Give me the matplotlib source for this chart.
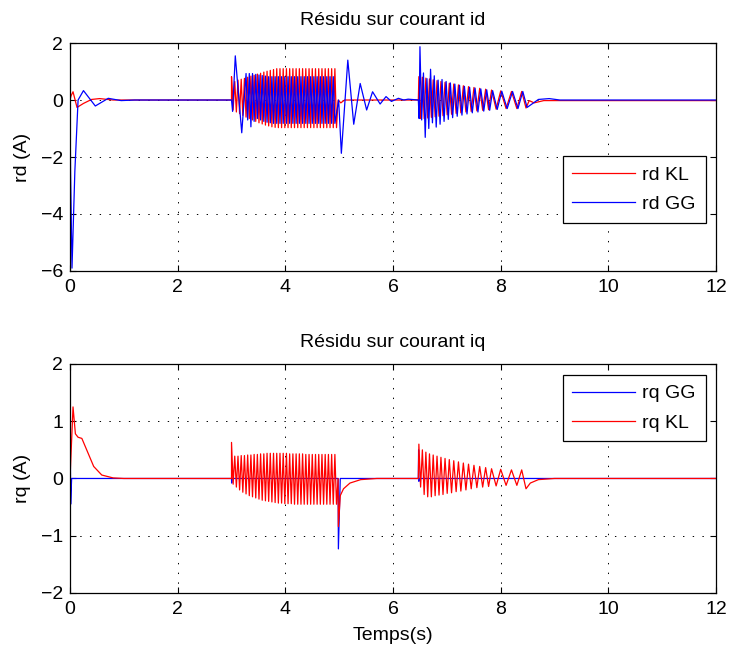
import matplotlib
matplotlib.use("Agg")
import matplotlib.pyplot as plt
import numpy as np

plt.rcParams['font.family'] = ['Liberation Sans', 'DejaVu Sans']
plt.rcParams['font.size'] = 14
plt.rcParams['lines.scale_dashes'] = False

# ---- rd (top) : values ----
# rd KL, outside the bursts (time, value)
rd_kl_start_t = [0.0, 0.02, 0.056, 0.13, 0.25, 0.40, 0.55, 0.8, 3.0]
rd_kl_start_v = [0.0, 0.15, 0.29, -0.26, -0.12, 0.02, 0.05, 0.0, 0.0]
# burst 1, one top and one bottom per cycle, cycle length b1_period
b1_start = 3.0
b1_period = 0.06
rd_kl_b1_top = [0.82, 0.65, 0.70, 0.73, 0.76, 0.80, 0.84, 0.87, 0.91, 0.94, 0.98,
                1.01, 1.04, 1.07, 1.10, 1.10, 1.10, 1.10, 1.10, 1.10, 1.10, 1.10,
                1.10, 1.10, 1.10, 1.10, 1.10, 1.10, 1.10, 1.10, 1.10, 1.10, 1.10]
rd_kl_b1_bot = [-0.35, -0.42, -0.48, -0.54, -0.60, -0.65, -0.70, -0.75, -0.80, -0.84, -0.88,
                -0.91, -0.94, -0.96, -0.97, -0.97, -0.97, -0.97, -0.97, -0.97, -0.97, -0.97,
                -0.97, -0.97, -0.97, -0.97, -0.97, -0.97, -0.97, -0.97, -0.97, -0.97, -0.97]
rd_kl_mid_t = [4.98, 5.03, 5.10, 6.47]
rd_kl_mid_v = [0.0, -0.10, 0.0, 0.0]
# burst 2, times of tops and bottoms (period grows toward the end)
b2_top_t = [6.48, 6.545, 6.61, 6.677, 6.746, 6.817, 6.89, 6.966, 7.045, 7.128,
            7.215, 7.306, 7.402, 7.503, 7.61, 7.72, 7.83, 8.0, 8.2, 8.39]
b2_bot_t = [6.512, 6.578, 6.644, 6.712, 6.782, 6.854, 6.928, 7.006, 7.087, 7.172,
            7.26, 7.354, 7.452, 7.557, 7.665, 7.775, 7.915, 8.1, 8.3, 8.47]
rd_kl_b2_top = [0.82, 0.80, 0.77, 0.74, 0.71, 0.68, 0.65, 0.62, 0.59, 0.56,
                0.53, 0.50, 0.47, 0.44, 0.41, 0.38, 0.35, 0.32, 0.30, 0.30]
rd_kl_b2_bot = [-0.65, -0.65, -0.63, -0.61, -0.59, -0.57, -0.55, -0.52, -0.50, -0.47,
                -0.45, -0.42, -0.40, -0.38, -0.36, -0.34, -0.32, -0.30, -0.30, -0.28]
rd_kl_end_t = [8.53, 8.62, 8.80, 12.0]
rd_kl_end_v = [-0.02, -0.10, -0.02, -0.02]

# rd GG
rd_gg_start_t = [0.0, 0.01, 0.037, 0.09, 0.15, 0.25, 0.47, 0.71, 0.95, 1.2, 3.0,
                 3.02, 3.07, 3.19]
rd_gg_start_v = [0.0, -2.5, -5.9, -2.5, 0.0, 0.33, -0.21, 0.06, -0.02, 0.0, 0.0,
                 -0.40, 1.55, -1.15]
b1_gg_start = 3.27
rd_gg_b1_top = [0.93, 0.93, 0.93, 0.90, 0.88, 0.86, 0.84, 0.82, 0.82, 0.82, 0.82, 0.82,
                0.82, 0.82, 0.82, 0.82, 0.82, 0.82, 0.82, 0.82, 0.82, 0.82, 0.82, 0.82,
                0.82, 0.82, 0.82, 0.82]
rd_gg_b1_bot = [-0.70, -0.94, -0.75, -0.65, -0.70, -0.75, -0.78, -0.80, -0.82, -0.82, -0.82,
                -0.82, -0.82, -0.82, -0.82, -0.82, -0.82, -0.82, -0.82, -0.82, -0.82, -0.82,
                -0.82, -0.82, -0.82, -0.82, -0.82, -0.82]
rd_gg_mid_t = [4.99, 5.04, 5.16, 5.27, 5.39, 5.51, 5.62, 5.76, 5.87, 5.97, 6.10, 6.20,
               6.28, 6.47, 6.485]
rd_gg_mid_v = [0.0, -1.87, 1.40, -0.85, 0.58, -0.35, 0.29, -0.14, 0.12, -0.05, 0.06, 0.0,
               0.03, 0.0, -0.65]
gg_lag = 0.02
rd_gg_b2_top = [1.87, 0.95, 0.75, 1.08, 0.85, 0.70, 0.72, 0.65, 0.60, 0.56,
                0.52, 0.48, 0.45, 0.42, 0.39, 0.36, 0.33, 0.31, 0.30, 0.30]
rd_gg_b2_bot = [-0.70, -1.31, -1.00, -0.80, -0.95, -0.85, -0.75, -0.68, -0.62, -0.57,
                -0.53, -0.49, -0.45, -0.42, -0.39, -0.36, -0.33, -0.30, -0.30, -0.26]
rd_gg_end_t = [8.70, 8.90, 9.10, 12.0]
rd_gg_end_v = [0.02, 0.05, 0.0, 0.0]

# ---- rq (bottom) ----
rq_gg_t = [0.0, 0.005, 0.012, 0.03, 3.0, 3.003, 3.01, 4.98, 4.985, 5.02, 6.47, 6.475,
           6.48, 6.50, 12.0]
rq_gg_v = [0.0, 0.58, -0.45, 0.0, 0.0, -0.08, 0.0, 0.0, -1.23, 0.0, 0.0, 0.50,
           -0.05, 0.0, 0.0]

rq_kl_start_t = [0.0, 0.056, 0.10, 0.15, 0.22, 0.31, 0.44, 0.59, 0.80, 1.0, 3.0]
rq_kl_start_v = [0.0, 1.25, 0.78, 0.72, 0.70, 0.50, 0.21, 0.06, 0.01, 0.0, 0.0]
rq_kl_b1_top = [0.63, 0.39, 0.39, 0.40, 0.40, 0.41, 0.41, 0.42, 0.42, 0.43, 0.43, 0.44,
                0.44, 0.44, 0.44, 0.44, 0.44, 0.44, 0.43, 0.43, 0.43, 0.43, 0.43, 0.42,
                0.42, 0.42, 0.42, 0.42, 0.42, 0.42, 0.42, 0.42, 0.42]
rq_kl_b1_bot = [-0.10, -0.15, -0.20, -0.24, -0.27, -0.30, -0.32, -0.34, -0.36, -0.38, -0.39,
                -0.40, -0.41, -0.42, -0.43, -0.43, -0.44, -0.44, -0.44, -0.45, -0.45, -0.45,
                -0.45, -0.45, -0.45, -0.45, -0.45, -0.45, -0.45, -0.45, -0.45, -0.45, -0.45]
rq_kl_mid_t = [4.98, 4.985, 5.02, 5.08, 5.20, 5.40, 5.70, 6.47]
rq_kl_mid_v = [0.0, -0.84, -0.30, -0.18, -0.08, -0.02, 0.0, 0.0]
rq_kl_b2_top = [0.60, 0.50, 0.46, 0.43, 0.41, 0.39, 0.37, 0.35, 0.33, 0.31,
                0.29, 0.27, 0.25, 0.23, 0.21, 0.19, 0.17, 0.16, 0.15, 0.15]
rq_kl_b2_bot = [-0.15, -0.28, -0.32, -0.32, -0.30, -0.29, -0.28, -0.26, -0.25, -0.23,
                -0.22, -0.20, -0.18, -0.16, -0.15, -0.14, -0.13, -0.12, -0.12, -0.18]
rq_kl_end_t = [8.55, 8.70, 9.00, 12.0]
rq_kl_end_v = [-0.08, -0.02, 0.0, 0.0]


def cycles(t0, period, tops, bots):
    # one top then one bottom per cycle
    t, v = [], []
    for k in range(len(tops)):
        t += [t0 + k * period, t0 + (k + 0.5) * period]
        v += [tops[k], bots[k]]
    return t, v


def alternate(t_top, t_bot, tops, bots, lag=0.0):
    t, v = [], []
    for a, b, c, d in zip(t_top, t_bot, tops, bots):
        t += [a + lag, b + lag]
        v += [c, d]
    return t, v


t1, v1 = cycles(b1_start, b1_period, rd_kl_b1_top, rd_kl_b1_bot)
t2, v2 = alternate(b2_top_t, b2_bot_t, rd_kl_b2_top, rd_kl_b2_bot)
rd_kl_t = rd_kl_start_t + t1 + rd_kl_mid_t + t2 + rd_kl_end_t
rd_kl_v = rd_kl_start_v + v1 + rd_kl_mid_v + v2 + rd_kl_end_v

t1, v1 = cycles(b1_gg_start, b1_period, rd_gg_b1_top, rd_gg_b1_bot)
t2, v2 = alternate(b2_top_t, b2_bot_t, rd_gg_b2_top, rd_gg_b2_bot, gg_lag)
rd_gg_t = rd_gg_start_t + t1 + rd_gg_mid_t + t2 + rd_gg_end_t
rd_gg_v = rd_gg_start_v + v1 + rd_gg_mid_v + v2 + rd_gg_end_v

t1, v1 = cycles(b1_start, b1_period, rq_kl_b1_top, rq_kl_b1_bot)
t2, v2 = alternate(b2_top_t, b2_bot_t, rq_kl_b2_top, rq_kl_b2_bot)
rq_kl_t = rq_kl_start_t + t1 + rq_kl_mid_t + t2 + rq_kl_end_t
rq_kl_v = rq_kl_start_v + v1 + rq_kl_mid_v + v2 + rq_kl_end_v

fig = plt.figure(figsize=(7.3, 6.55), dpi=100)
ax1 = fig.add_axes([0.0959, 0.5863, 0.885, 0.348])
ax2 = fig.add_axes([0.0959, 0.0947, 0.885, 0.3496])

leg_kw = dict(borderaxespad=0, handlelength=3.2, handletextpad=0.4, labelspacing=0.6,
              borderpad=0.5, fancybox=False, edgecolor='black', framealpha=1)

ax1.plot(rd_kl_t, rd_kl_v, color='red', lw=0.9, label='rd KL')
ax1.plot(rd_gg_t, rd_gg_v, color='blue', lw=0.9, label='rd GG')
ax1.set_ylim(-6, 2)
ax1.set_yticks([-6, -4, -2, 0, 2])
ax1.set_ylabel('rd (A)', labelpad=7)
ax1.set_title('Résidu sur courant id', fontsize=14, pad=13)
ax1.legend(loc='lower right', bbox_to_anchor=(0.984, 0.212), **leg_kw)

ax2.plot(rq_gg_t, rq_gg_v, color='blue', lw=0.9, label='rq GG')
ax2.plot(rq_kl_t, rq_kl_v, color='red', lw=0.9, label='rq KL')
ax2.set_ylim(-2, 2)
ax2.set_yticks([-2, -1, 0, 1, 2])
ax2.set_ylabel('rq (A)', labelpad=7)
ax2.set_xlabel('Temps(s)', labelpad=6)
ax2.set_title('Résidu sur courant iq', fontsize=14, pad=12)
ax2.legend(loc='upper right', bbox_to_anchor=(0.984, 0.952), **leg_kw)

for ax in (ax1, ax2):
    ax.set_xlim(0, 12)
    ax.set_xticks(range(0, 13, 2))
    ax.grid(True, color='black', linestyle=(0, (1.0, 6.0)), lw=0.7)
    ax.tick_params(direction='in', top=True, right=True, length=4, width=0.8, pad=5)
    ax.tick_params(axis='x', pad=6)
    for s in ax.spines.values():
        s.set_linewidth(0.9)
    ax.get_legend().get_frame().set_linewidth(0.9)

fig.savefig('out.png', dpi=100)
